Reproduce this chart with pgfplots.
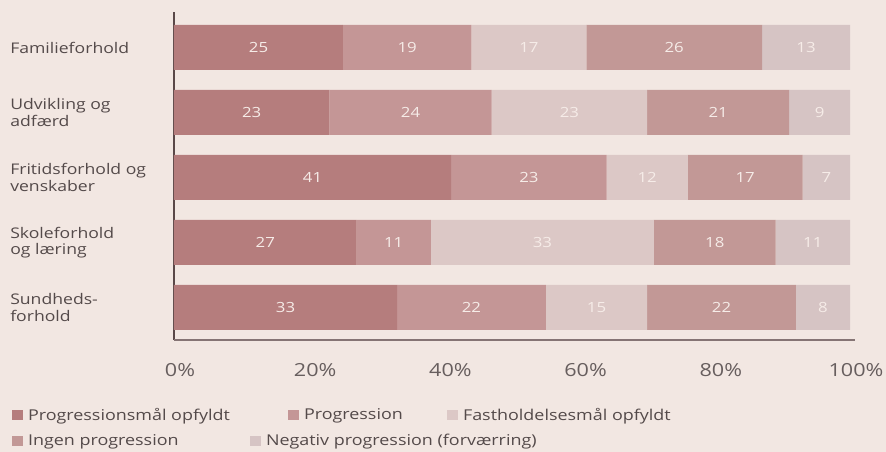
\documentclass[border=0pt]{standalone}
\usepackage{fontspec}
\setmainfont[FakeStretch=1.2]{Open Sans}
\usepackage{pgfplots}
\pgfplotsset{compat=1.18}
\definecolor{bg}{HTML}{F2E7E2}
\definecolor{cA}{HTML}{B57D7D}
\definecolor{cB}{HTML}{C49696}
\definecolor{cC}{HTML}{DCC8C6}
\definecolor{cD}{HTML}{C29896}
\definecolor{cE}{HTML}{D6C4C4}
\definecolor{txt}{HTML}{544A4A}
\definecolor{ticktxt}{HTML}{675E5E}
\definecolor{axl}{HTML}{5A4848}
\definecolor{axb}{HTML}{857474}
\definecolor{lbl}{HTML}{F6ECE8}

\pgfplotstableread{
y v
0 25
1 23
2 41
3 27
4 33
}\sA
\pgfplotstableread{
y v
0 19
1 24
2 23
3 11
4 22
}\sB
\pgfplotstableread{
y v
0 17
1 23
2 12
3 33
4 15
}\sC
\pgfplotstableread{
y v
0 26
1 21
2 17
3 18
4 22
}\sD
\pgfplotstableread{
y v
0 13
1 9
2 7
3 11
4 8
}\sE

\newcommand{\catfont}{\fontsize{11}{12.5}\selectfont}
\newcommand{\tickfont}{\fontsize{13.5}{16}\selectfont}
\newcommand{\legfont}{\fontsize{11.2}{13}\selectfont}
\newcommand{\barfont}{\fontsize{10.5}{12}\selectfont}

\pgfplotsset{
  myleg/.style={legend image code/.code={\fill[##1] (0pt,-4.1pt) rectangle (8.25pt,4.1pt); \path (12pt,0pt);}},
  common/.style={
    at={(130.5pt,84pt)}, anchor=south west,
    scale only axis, width=507pt, height=246pt,
    xmin=0, xmax=100, ymin=-0.546, ymax=4.5, y dir=reverse,
    clip=false,
  },
  legst/.style={
    legend cell align=left,
    legend style={draw=none, fill=none, inner sep=0pt, outer sep=0pt,
      font=\legfont, text=txt, nodes={inner sep=0pt}, column sep=0pt, row sep=0pt},
  },
}

\begin{document}
\begin{tikzpicture}[x=1pt,y=1pt]
\useasboundingbox[fill=bg] (0,0) rectangle (664.5,339);
\begin{axis}[
  common,
  xbar stacked, bar width=33.75pt,
  /pgf/number format/assume math mode=true,
  axis line style={draw=none}, tick style={draw=none},
  ytick={0,1,2,3,4},
  yticklabels={Familieforhold,{Udvikling og\\adfærd},{Fritidsforhold og\\venskaber},{Skoleforhold\\og læring},{Sundheds-\\forhold}},
  yticklabel style={anchor=west, align=left, inner sep=0pt, xshift=-123pt, font=\catfont, text=txt},
  xtick={0,20,40,60,80,100},
  xticklabels={0\%,20\%,40\%,60\%,80\%,100\%},
  xticklabel style={anchor=base, inner sep=0pt, yshift=-27.75pt, xshift=4.5pt, font=\tickfont, text=ticktxt},
  nodes near coords={\pgfmathprintnumber{\pgfplotspointmeta}},
  every node near coord/.append style={anchor=center, font=\barfont, text=lbl},
  legst,
  legend columns=3,
  legend style={at={(-0.2396,-0.2287)}, anchor=west},
]
\addplot[fill=cA, draw=none, myleg, point meta=\thisrow{v}] table[x=v, y=y] {\sA};
\addlegendentry{\makebox[195pt][l]{Progressionsmål opfyldt}}
\addplot[fill=cB, draw=none, myleg, point meta=\thisrow{v}] table[x=v, y=y] {\sB};
\addlegendentry{\makebox[107.25pt][l]{Progression}}
\addplot[fill=cC, draw=none, myleg, point meta=\thisrow{v}] table[x=v, y=y] {\sC};
\addlegendentry{Fastholdelsesmål opfyldt}
\addplot[fill=cD, draw=none, myleg, point meta=\thisrow{v}] table[x=v, y=y] {\sD};
\addplot[fill=cE, draw=none, myleg, point meta=\thisrow{v}] table[x=v, y=y] {\sE};
\draw[axb, line width=1.1pt] (axis description cs:0,0) -- (axis description cs:1.0074,0);
\draw[axl, line width=1.5pt] (axis description cs:0,0) -- (axis description cs:0,1);
\end{axis}
\begin{axis}[
  common, hide axis,
  legst,
  legend columns=2,
  legend style={at={(-0.2396,-0.308)}, anchor=west},
]
\addplot[draw=none, forget plot] coordinates {(0,0)};
\addlegendimage{fill=cD, draw=none, myleg}
\addlegendentry{\makebox[166.5pt][l]{Ingen progression}}
\addlegendimage{fill=cE, draw=none, myleg}
\addlegendentry{Negativ progression (forværring)}
\end{axis}
\end{tikzpicture}
\end{document}
